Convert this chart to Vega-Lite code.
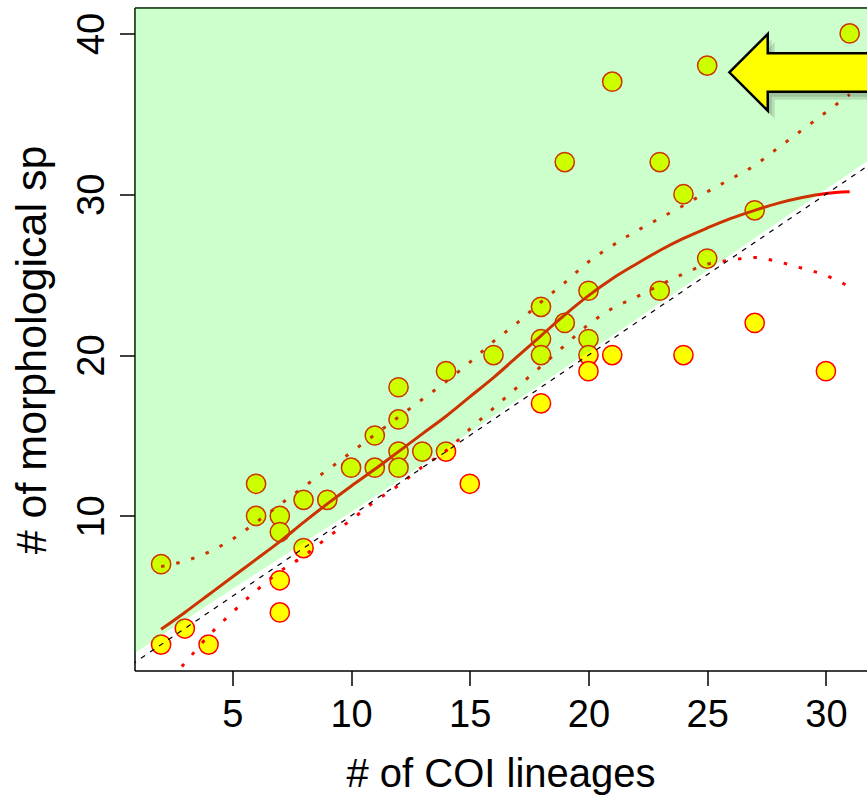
{
  "$schema": "https://vega.github.io/schema/vega-lite/v6.json",
  "autosize": {"type": "none"},
  "padding": {"left": 134.5, "top": 7.5, "right": 0, "bottom": 125.5},
  "width": 732.5,
  "height": 663,
  "background": "white",
  "config": {
    "view": {"stroke": null},
    "font": "Liberation Sans",
    "axis": {
      "grid": false,
      "domainColor": "black",
      "domainWidth": 1.5,
      "tickColor": "black",
      "tickWidth": 1.5,
      "tickSize": 15,
      "labelFont": "Liberation Sans",
      "labelFontSize": 38,
      "labelColor": "black",
      "labelFlush": false,
      "labelOverlap": false,
      "titleFont": "Liberation Sans",
      "titleFontSize": 40,
      "titleFontWeight": "normal",
      "titleColor": "black",
      "zindex": 1
    }
  },
  "datasets": {
    "pts": [
      {"x": 2, "y": 7}, {"x": 2, "y": 2}, {"x": 3, "y": 3}, {"x": 4, "y": 2},
      {"x": 6, "y": 12}, {"x": 6, "y": 10}, {"x": 7, "y": 10}, {"x": 7, "y": 9},
      {"x": 7, "y": 6}, {"x": 7, "y": 4}, {"x": 8, "y": 11}, {"x": 8, "y": 8},
      {"x": 9, "y": 11}, {"x": 10, "y": 13}, {"x": 11, "y": 15}, {"x": 11, "y": 13},
      {"x": 12, "y": 18}, {"x": 12, "y": 16}, {"x": 12, "y": 14}, {"x": 12, "y": 13},
      {"x": 13, "y": 14}, {"x": 14, "y": 19}, {"x": 14, "y": 14}, {"x": 15, "y": 12},
      {"x": 16, "y": 20}, {"x": 18, "y": 23}, {"x": 18, "y": 21}, {"x": 18, "y": 20},
      {"x": 18, "y": 17}, {"x": 19, "y": 32}, {"x": 19, "y": 22}, {"x": 20, "y": 24},
      {"x": 20, "y": 21}, {"x": 20, "y": 20}, {"x": 20, "y": 19}, {"x": 21, "y": 37},
      {"x": 21, "y": 20}, {"x": 23, "y": 32}, {"x": 23, "y": 24}, {"x": 24, "y": 30},
      {"x": 24, "y": 20}, {"x": 25, "y": 38}, {"x": 25, "y": 26}, {"x": 27, "y": 29},
      {"x": 27, "y": 22}, {"x": 30, "y": 19}, {"x": 31, "y": 40}
    ],
    "fit": [
      {"x": 2, "fit": 2.95, "upper": 6.85, "lower": -0.8},
      {"x": 3, "fit": 4.0, "upper": 7.2, "lower": 0.85},
      {"x": 4, "fit": 5.1, "upper": 7.75, "lower": 2.55},
      {"x": 5, "fit": 6.2, "upper": 8.55, "lower": 4.0},
      {"x": 6, "fit": 7.3, "upper": 9.6, "lower": 5.35},
      {"x": 7, "fit": 8.4, "upper": 10.7, "lower": 6.55},
      {"x": 8, "fit": 9.6, "upper": 11.8, "lower": 7.5},
      {"x": 9, "fit": 10.75, "upper": 12.85, "lower": 8.65},
      {"x": 10, "fit": 11.85, "upper": 13.95, "lower": 9.75},
      {"x": 11, "fit": 12.9, "upper": 15.05, "lower": 10.9},
      {"x": 12, "fit": 14.0, "upper": 16.15, "lower": 11.9},
      {"x": 13, "fit": 15.1, "upper": 17.25, "lower": 13.05},
      {"x": 14, "fit": 16.2, "upper": 18.35, "lower": 14.05},
      {"x": 15, "fit": 17.4, "upper": 19.55, "lower": 15.4},
      {"x": 16, "fit": 18.6, "upper": 20.85, "lower": 16.7},
      {"x": 17, "fit": 19.9, "upper": 22.0, "lower": 18.0},
      {"x": 18, "fit": 21.2, "upper": 23.3, "lower": 19.3},
      {"x": 19, "fit": 22.5, "upper": 24.5, "lower": 20.6},
      {"x": 20, "fit": 23.7, "upper": 25.8, "lower": 21.9},
      {"x": 21, "fit": 24.75, "upper": 26.8, "lower": 22.9},
      {"x": 22, "fit": 25.65, "upper": 27.7, "lower": 23.6},
      {"x": 23, "fit": 26.5, "upper": 28.5, "lower": 24.35},
      {"x": 24, "fit": 27.25, "upper": 29.3, "lower": 25.05},
      {"x": 25, "fit": 27.9, "upper": 30.15, "lower": 25.65},
      {"x": 26, "fit": 28.5, "upper": 30.95, "lower": 25.9},
      {"x": 27, "fit": 29.0, "upper": 31.8, "lower": 26.07},
      {"x": 28, "fit": 29.45, "upper": 32.9, "lower": 25.8},
      {"x": 29, "fit": 29.8, "upper": 34.0, "lower": 25.4},
      {"x": 30, "fit": 30.05, "upper": 35.1, "lower": 24.95},
      {"x": 31, "fit": 30.15, "upper": 36.2, "lower": 24.25}
    ],
    "diag": [{"x": 0, "y": 0}, {"x": 35, "y": 35}],
    "green": [
      {"x": 0.88, "lo": 1.47, "hi": 45},
      {"x": 5, "lo": 5.45, "hi": 45},
      {"x": 11, "lo": 11.2, "hi": 45},
      {"x": 21.3, "lo": 21.5, "hi": 45},
      {"x": 31.73, "lo": 32.05, "hi": 45}
    ],
    "arrow": [{"x": 28.91, "y": 37.58}]
  },
  "resolve": {"axis": {"x": "independent", "y": "independent"}},
  "layer": [
    {
      "data": {"name": "pts"},
      "mark": {"type": "circle", "size": 370, "fill": "#ffff00", "stroke": "#ff0000", "strokeWidth": 1.5, "opacity": 1, "clip": true},
      "encoding": {
        "x": {"field": "x", "type": "quantitative",
              "scale": {"domain": [0.88, 31.73], "nice": false, "zero": false},
              "axis": {"orient": "bottom", "values": [5, 10, 15, 20, 25, 30], "labelBaseline": "alphabetic", "labelPadding": 41.2, "title": "# of COI lineages", "titleBaseline": "alphabetic", "titleX": 366, "titleY": 116.2, "titleAnchor": "middle", "titleAlign": "center"}},
        "y": {"field": "y", "type": "quantitative",
              "scale": {"domain": [0.39, 41.61], "nice": false, "zero": false},
              "axis": {"orient": "left", "values": [10, 20, 30, 40], "labelAngle": -90, "labelAlign": "center", "labelBaseline": "alphabetic", "labelPadding": 16.5, "title": "# of morphological sp", "titleFontSize": 43, "titleAngle": -90, "titleBaseline": "alphabetic", "titleAlign": "center", "titleAnchor": "middle", "titleX": -89.5, "titleY": 342}}
      }
    },
    {
      "data": {"name": "fit"},
      "mark": {"type": "line", "color": "#ff0000", "strokeWidth": 3, "interpolate": "monotone", "clip": true},
      "encoding": {
        "x": {"field": "x", "type": "quantitative", "axis": null},
        "y": {"field": "fit", "type": "quantitative", "axis": null}
      }
    },
    {
      "data": {"name": "fit"},
      "mark": {"type": "line", "color": "#ff0000", "strokeWidth": 3, "strokeDash": [3.5, 12], "interpolate": "monotone", "clip": true},
      "encoding": {
        "x": {"field": "x", "type": "quantitative", "axis": null},
        "y": {"field": "upper", "type": "quantitative", "axis": null}
      }
    },
    {
      "data": {"name": "fit"},
      "mark": {"type": "line", "color": "#ff0000", "strokeWidth": 3, "strokeDash": [3.5, 12], "interpolate": "monotone", "clip": true},
      "encoding": {
        "x": {"field": "x", "type": "quantitative", "axis": null},
        "y": {"field": "lower", "type": "quantitative", "axis": null}
      }
    },
    {
      "data": {"name": "diag"},
      "mark": {"type": "line", "color": "#000000", "strokeWidth": 1.2, "strokeDash": [5, 6], "clip": true},
      "encoding": {
        "x": {"field": "x", "type": "quantitative", "axis": null},
        "y": {"field": "y", "type": "quantitative", "axis": null}
      }
    },
    {
      "data": {"name": "green"},
      "mark": {"type": "area", "color": "#00ff00", "opacity": 0.2, "clip": true},
      "encoding": {
        "x": {"field": "x", "type": "quantitative",
              "axis": {"orient": "top", "labels": false, "ticks": false, "title": null, "domainColor": "black", "domainWidth": 1.5}},
        "y": {"field": "lo", "type": "quantitative", "axis": null},
        "y2": {"field": "hi"}
      }
    },
    {
      "data": {"name": "arrow"},
      "mark": {"type": "point", "shape": "M-0.707,0 L-0.323,-0.383 L-0.323,-0.19 L1.2,-0.19 L1.2,0.194 L-0.323,0.194 L-0.323,0.384 Z", "size": 40000, "filled": true, "fill": "#000000", "opacity": 0.12, "strokeWidth": 0, "xOffset": 4, "yOffset": 5, "clip": true},
      "encoding": {
        "x": {"field": "x", "type": "quantitative", "axis": null},
        "y": {"field": "y", "type": "quantitative", "axis": null}
      }
    },
    {
      "data": {"name": "arrow"},
      "mark": {"type": "point", "shape": "M-0.707,0 L-0.323,-0.383 L-0.323,-0.19 L1.2,-0.19 L1.2,0.194 L-0.323,0.194 L-0.323,0.384 Z", "size": 40000, "filled": true, "fill": "#000000", "opacity": 0.12, "strokeWidth": 0, "xOffset": 7, "yOffset": 8, "clip": true},
      "encoding": {
        "x": {"field": "x", "type": "quantitative", "axis": null},
        "y": {"field": "y", "type": "quantitative", "axis": null}
      }
    },
    {
      "data": {"name": "arrow"},
      "mark": {"type": "point", "shape": "M-0.707,0 L-0.323,-0.383 L-0.323,-0.19 L1.2,-0.19 L1.2,0.194 L-0.323,0.194 L-0.323,0.384 Z", "size": 40000, "filled": true, "fill": "#ffff00", "stroke": "#000000", "strokeWidth": 2.5, "opacity": 1, "clip": true},
      "encoding": {
        "x": {"field": "x", "type": "quantitative", "axis": null},
        "y": {"field": "y", "type": "quantitative", "axis": null}
      }
    }
  ]
}
